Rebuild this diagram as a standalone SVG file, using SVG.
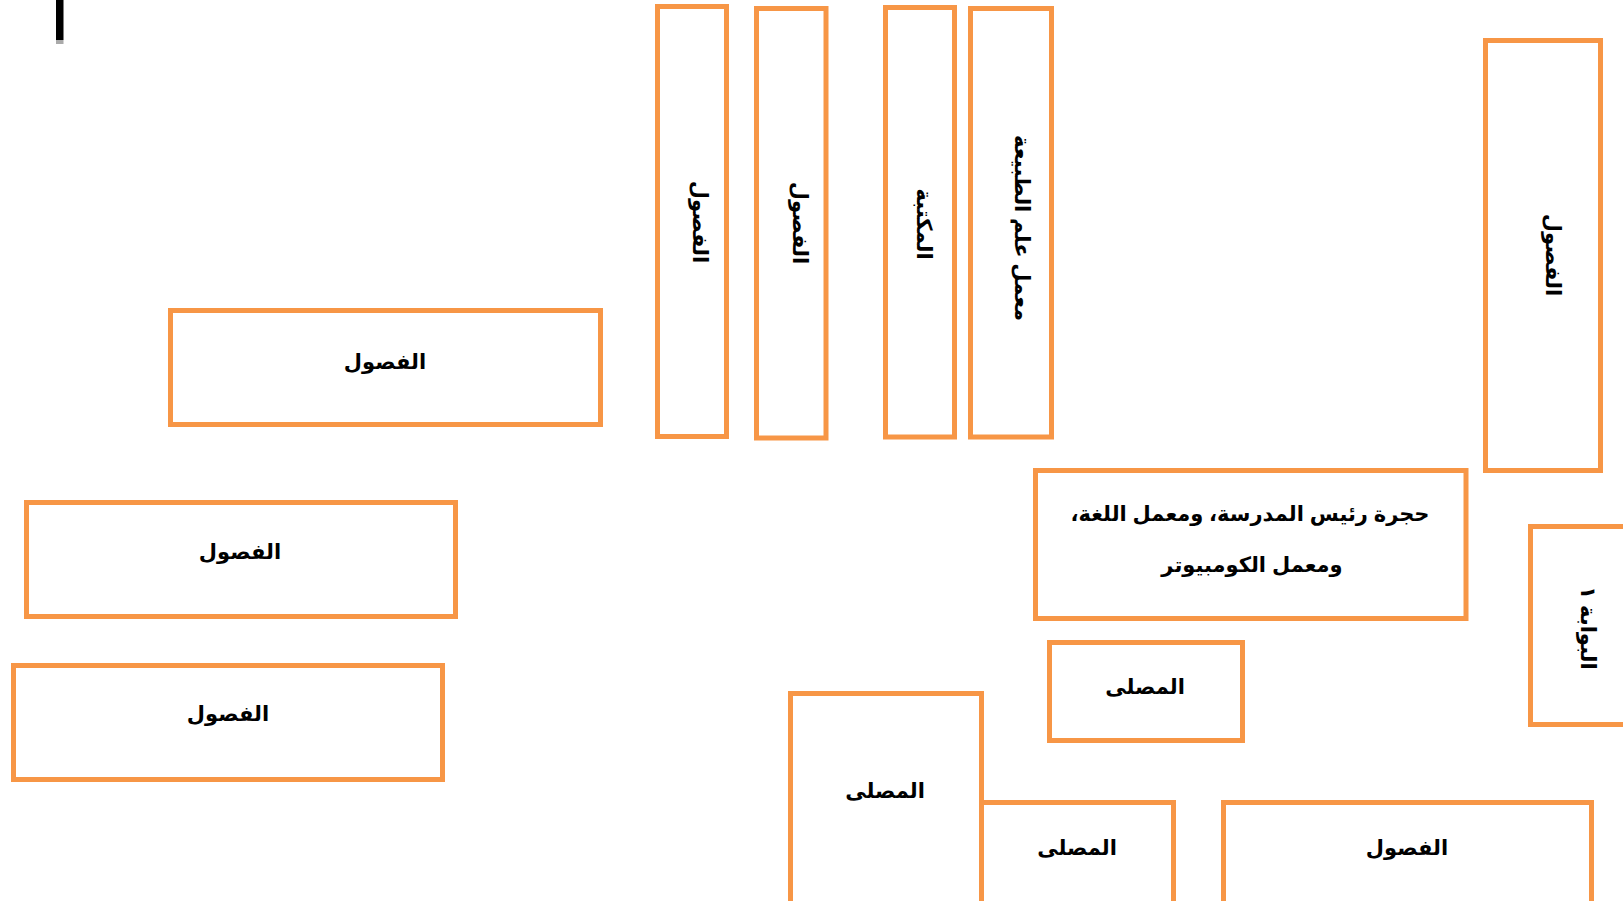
<svg xmlns="http://www.w3.org/2000/svg" width="1623" height="901" viewBox="0 0 1623 901">
<style>
.b{fill:#fff;stroke:#F79646;stroke-width:5}
.t{font-family:"Liberation Sans","DejaVu Sans",sans-serif;font-weight:bold;font-size:21px;fill:#000;text-anchor:middle;dominant-baseline:central;direction:rtl;unicode-bidi:embed}
</style>
<rect width="1623" height="901" fill="#fff"/>
<rect x="56" y="0" width="7.5" height="40" fill="#000"/>
<rect x="56" y="40" width="7.5" height="4" fill="#aaa"/>
<g id="connectors"/>
<g id="n1"><rect class="b" x="170.5" y="310.5" width="430" height="114"/><text class="t" x="385" y="361">الفصول</text></g>
<g id="n2"><rect class="b" x="26.5" y="502.5" width="429" height="114"/><text class="t" x="240" y="551">الفصول</text></g>
<g id="n3"><rect class="b" x="13.5" y="665.5" width="429" height="114"/><text class="t" x="228" y="713">الفصول</text></g>
<g id="n4"><rect class="b" x="657.5" y="6.5" width="69" height="430"/><text class="t" transform="translate(700 222) rotate(90)">الفصول</text></g>
<g id="n5"><rect class="b" x="756.5" y="8.5" width="69.5" height="429.5"/><text class="t" transform="translate(800 223) rotate(90)">الفصول</text></g>
<g id="n6"><rect class="b" x="885.5" y="7.5" width="69" height="429.5"/><text class="t" transform="translate(924 224) rotate(90)">المكتبة</text></g>
<g id="n7"><rect class="b" x="970.5" y="8.5" width="81" height="428.5"/><text class="t" transform="translate(1022 228) rotate(90)">معمل علم الطبيعة</text></g>
<g id="n8"><rect class="b" x="1485.5" y="40.5" width="115" height="430"/><text class="t" transform="translate(1553 255) rotate(90)">الفصول</text></g>
<g id="n9"><rect class="b" x="1035.5" y="470.5" width="430.5" height="148"/><text class="t" x="1250" y="513">حجرة رئيس المدرسة، ومعمل اللغة،</text><text class="t" x="1252" y="564">ومعمل الكومبيوتر</text></g>
<g id="n10"><rect class="b" x="1530.5" y="526.5" width="110" height="198"/><text class="t" transform="translate(1588 628) rotate(90)">البوابة ١</text></g>
<g id="n11"><rect class="b" x="1049.5" y="642.5" width="193" height="98"/><text class="t" x="1145" y="686">المصلى</text></g>
<g id="n12"><rect class="b" x="790.5" y="693.5" width="191" height="215"/><text class="t" x="885" y="790">المصلى</text></g>
<g id="n13"><rect class="b" x="981.5" y="802.5" width="192" height="106"/><text class="t" x="1077" y="847">المصلى</text></g>
<g id="n14"><rect class="b" x="1223.5" y="802.5" width="368" height="106"/><text class="t" x="1407" y="847">الفصول</text></g>
</svg>
